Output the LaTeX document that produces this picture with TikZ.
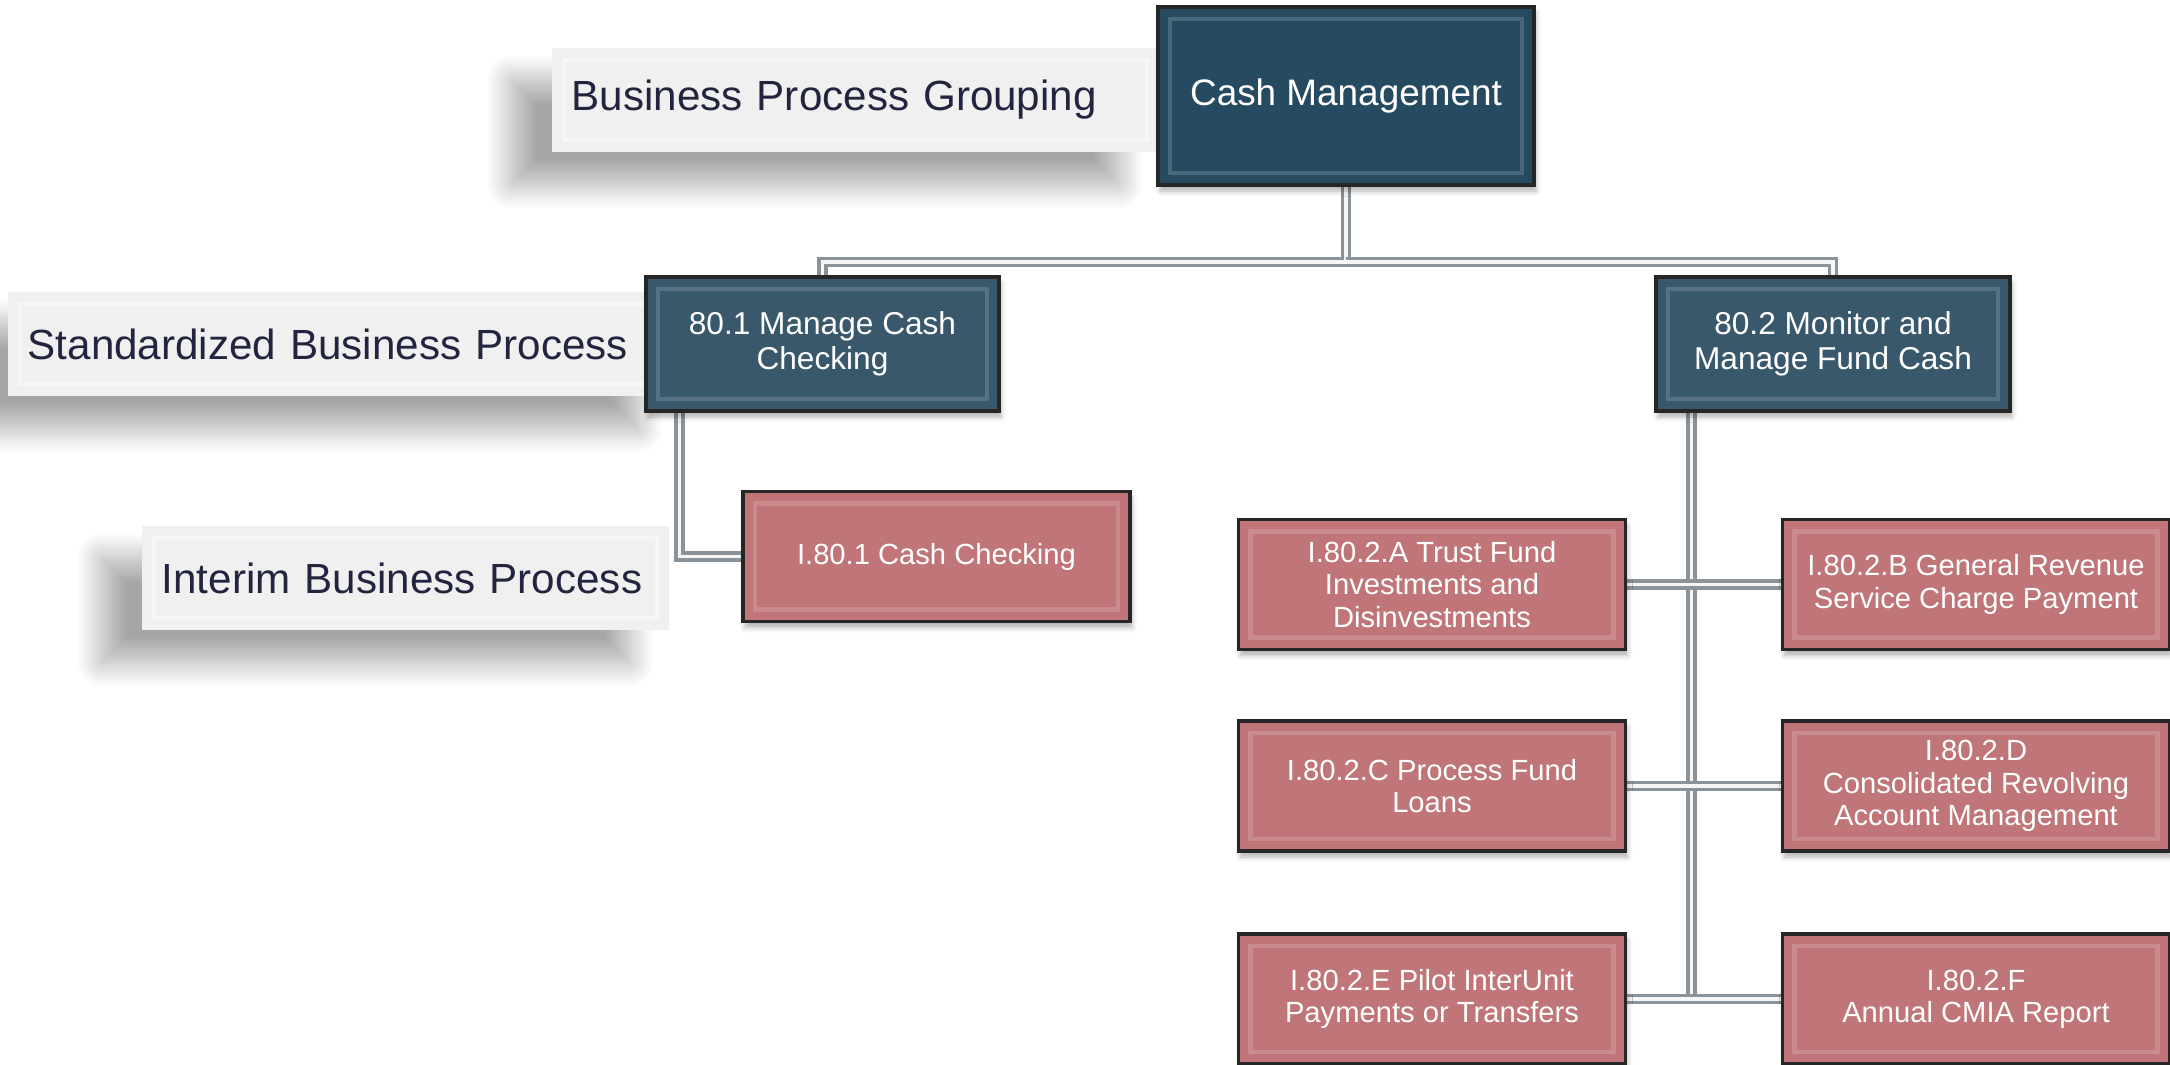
\documentclass[tikz,border=0pt]{standalone}
\usepackage{fontspec}
\setmainfont{Liberation Sans}
\usepackage{tikz}
\usetikzlibrary{shadows,shadows.blur,backgrounds}

\definecolor{cmblue}{RGB}{38,74,95}
\definecolor{spblue}{RGB}{58,88,108}
\definecolor{ibpink}{RGB}{192,117,120}
\definecolor{lblgray}{RGB}{240,240,240}
\definecolor{lbltext}{RGB}{35,37,63}
\definecolor{linkgray}{RGB}{138,146,154}

\tikzset{
  bevel/.style={path picture={
      \draw[white,opacity=#1,line width=1.2pt]
        ([shift={(.12,-.12)}]path picture bounding box.north west) rectangle
        ([shift={(-.12,.12)}]path picture bounding box.south east);}},
  procbox/.style={draw=black!85, line width=0.9pt, text=white, align=center,
      inner sep=2pt, bevel=.16,
      blur shadow={shadow xshift=0.02cm, shadow yshift=-0.06cm,
                   shadow blur radius=0.05cm, shadow opacity=30}},
  lblbox/.style={fill=lblgray, text=lbltext, anchor=west, align=left,
      inner xsep=0.2cm, minimum height=1.04cm, bevel=.45,
      font=\fontsize{12}{14}\selectfont,
      blur shadow={shadow xshift=-0.4cm, shadow yshift=-0.32cm,
                   shadow blur radius=0.25cm, shadow blur steps=24,
                   shadow opacity=35}},
  link/.style={draw=linkgray, line width=1pt, double=white!92!linkgray,
      double distance=0.9pt},
}

\begin{document}
\begin{tikzpicture}
        \useasboundingbox (0,0) rectangle (21.70,-10.64);

        % legend labels
        \node [lblbox, text width=5.67cm]  (lblgroup) at (5.51,-1.0)   {Business Process Grouping};
        \node [lblbox, text width=6.3cm]   (lblstd)   at (0.07,-3.44)  {Standardized Business Process};
        \node [lblbox, text width=4.87cm]  (lblint)   at (1.41,-5.78)  {Interim Business Process};

        % grouping
        \node [procbox, fill=cmblue, minimum width=3.76cm, minimum height=1.78cm,
               font=\fontsize{10.5}{12}\selectfont] (cashmgmt) at (13.46,-0.96) {Cash Management};

        % standardized processes
        \node [procbox, fill=spblue, minimum width=3.53cm, minimum height=1.34cm,
               font=\fontsize{9}{9.8}\selectfont] (p801) at (8.225,-3.44) {80.1 Manage Cash\\Checking};
        \node [procbox, fill=spblue, minimum width=3.54cm, minimum height=1.34cm,
               font=\fontsize{9}{9.8}\selectfont] (p802) at (18.33,-3.44) {80.2 Monitor and\\Manage Fund Cash};

        % interim processes
        \begin{scope}[every node/.style={procbox, fill=ibpink, minimum width=3.87cm,
                      minimum height=1.30cm, font=\fontsize{8.3}{9.2}\selectfont}]
        \node (i801)  at (9.365,-5.565) {I.80.1 Cash Checking};
        \node (i802a) at (14.32,-5.845) {I.80.2.A Trust Fund\\Investments and\\Disinvestments};
        \node (i802b) at (19.76,-5.845) {I.80.2.B General Revenue\\Service Charge Payment};
        \node (i802c) at (14.32,-7.86)  {I.80.2.C Process Fund\\Loans};
        \node (i802d) at (19.76,-7.86)  {I.80.2.D\\Consolidated Revolving\\Account Management};
        \node (i802e) at (14.32,-9.99)  {I.80.2.E Pilot InterUnit\\Payments or Transfers};
        \node (i802f) at (19.76,-9.99)  {I.80.2.F\\Annual CMIA Report};
        \end{scope}

        % connectors
        \begin{scope}[on background layer]
        \coordinate (bus) at (13.46,-2.62);
        \draw [link] (cashmgmt.south) -- (bus) -| (p801.north);
        \draw [link] (bus) -| (p802.north);
        \draw [link] ([xshift=0.35cm]p801.south west) |- (i801.west);
        \draw [link] ([xshift=0.37cm]p802.south west) |- (i802e.east);
        \draw [link] (i802a) -- (i802b);
        \draw [link] (i802c) -- (i802d);
        \draw [link] (i802e) -- (i802f);
        \end{scope}
\end{tikzpicture}
\end{document}
